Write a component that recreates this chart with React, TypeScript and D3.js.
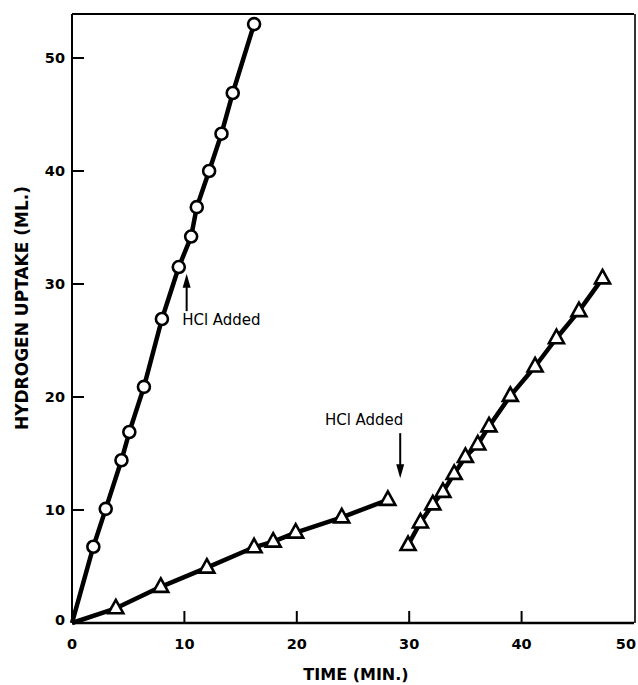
import * as d3 from 'd3';

// readings (time in min, uptake in ml)
const circleTime = [0, 1.9, 3.0, 4.4, 5.1, 6.4, 8.0, 9.5, 10.6, 11.1, 12.2, 13.3, 14.3, 16.2];
const circleUptake = [0, 6.75, 10.1, 14.4, 16.9, 20.9, 26.9, 31.5, 34.2, 36.8, 40.0, 43.3, 46.9, 53.0];

const triTimeA = [0, 3.9, 7.9, 12.0, 16.2, 17.9, 19.9, 24.0, 28.1];
const triUptakeA = [0, 1.3, 3.2, 4.9, 6.7, 7.2, 8.0, 9.35, 10.9];

const triTimeB = [29.9, 31.0, 32.1, 33.0, 34.0, 35.0, 36.1, 37.1, 39.0, 41.2, 43.1, 45.1, 47.2];
const triUptakeB = [6.9, 8.9, 10.5, 11.6, 13.2, 14.7, 15.8, 17.4, 20.1, 22.7, 25.2, 27.6, 30.5];

const xTicks = [0, 10, 20, 30, 40, 50];
const yTicks = [0, 10, 20, 30, 40, 50];

// arrow annotations
const notes = [
  { label: 'HCl Added', x: 10.2, from: 27.6, to: 30.9, tx: 9.8, ty: 26.4 },
  { label: 'HCl Added', x: 29.2, from: 16.8, to: 12.8, tx: 22.5, ty: 17.5 },
];

const width = 638;
const height = 685;

export default function App() {
  const x = d3.scaleLinear().domain([0, 50]).range([72, 634]);
  const y = d3.scaleLinear().domain([0, 50]).range([623, 58]);
  const yTop = y(53.9);

  const pts = (t: number[], v: number[]) => t.map((d, i) => [d, v[i]] as [number, number]);
  const line = d3.line<[number, number]>().x(d => x(d[0])).y(d => y(d[1]));

  const circles = pts(circleTime, circleUptake);
  const trisA = pts(triTimeA, triUptakeA);
  const trisB = pts(triTimeB, triUptakeB);

  const tri = 'M0,-8.5L7.5,5L-7.5,5Z';
  const labelFont = 'DejaVu Sans, sans-serif';

  return (
    <div style={{ position: 'absolute', left: 0, top: 0 }}>
      <svg width={width} height={height} style={{ display: 'block', background: 'white' }}>
        {/* frame */}
        <line x1={x(0)} x2={x(0)} y1={yTop} y2={y(0)} stroke="#000" strokeWidth={2} />
        <line x1={x(0)} x2={x(50)} y1={y(0)} y2={y(0)} stroke="#000" strokeWidth={2.5} />
        <line x1={x(0)} x2={x(50)} y1={yTop} y2={yTop} stroke="#000" strokeWidth={2} />
        <line x1={x(50) + 1} x2={x(50) + 1} y1={yTop} y2={y(0)} stroke="#000" strokeWidth={1.6} />

        {/* ticks */}
        {xTicks.filter(t => t > 0 && t < 50).map(t => (
          <line key={'xt' + t} x1={x(t)} x2={x(t)} y1={y(0)} y2={y(0) - 12} stroke="#000" strokeWidth={2} />
        ))}
        {yTicks.filter(t => t > 0).map(t => (
          <line key={'yt' + t} x1={x(0)} x2={x(0) + 12} y1={y(t)} y2={y(t)} stroke="#000" strokeWidth={2} />
        ))}

        {/* tick labels */}
        {xTicks.map(t => (
          <text key={'xl' + t} x={t === 50 ? 636 : x(t)} y={y(0) + 26} textAnchor={t === 50 ? 'end' : 'middle'}
            fontFamily={labelFont} fontWeight="bold" fontSize={14.5}>{t}</text>
        ))}
        {yTicks.map(t => (
          <text key={'yl' + t} x={x(0) - 7} y={y(t) + (t === 0 ? 2 : 5)} textAnchor="end"
            fontFamily={labelFont} fontWeight="bold" fontSize={14.5}>{t}</text>
        ))}

        {/* axis titles */}
        <text x={356} y={680} textAnchor="middle" fontFamily={labelFont} fontWeight="bold" fontSize={16}>
          TIME (MIN.)
        </text>
        <text transform={`translate(28,308) rotate(-90)`} textAnchor="middle"
          fontFamily={labelFont} fontWeight="bold" fontSize={17}>
          HYDROGEN UPTAKE (ML.)
        </text>

        {/* data lines */}
        <path d={line(circles) || ''} fill="none" stroke="#000" strokeWidth={4.5} strokeLinejoin="round" />
        <path d={line(trisA) || ''} fill="none" stroke="#000" strokeWidth={4.5} strokeLinejoin="round" />
        <path d={line(trisB) || ''} fill="none" stroke="#000" strokeWidth={4.5} strokeLinejoin="round" />

        {/* markers */}
        {circles.slice(1).map((d, i) => (
          <circle key={'c' + i} cx={x(d[0])} cy={y(d[1])} r={6} fill="white" stroke="#000" strokeWidth={2.6} />
        ))}
        {trisA.slice(1).concat(trisB).map((d, i) => (
          <path key={'t' + i} d={tri} transform={`translate(${x(d[0])},${y(d[1])})`}
            fill="white" stroke="#000" strokeWidth={2.6} strokeLinejoin="miter" />
        ))}

        {/* HCl annotations */}
        {notes.map((n, i) => {
          const xs = x(n.x);
          const y1 = y(n.from);
          const y2 = y(n.to);
          const dir = y2 < y1 ? 1 : -1;
          return (
            <g key={'n' + i}>
              <line x1={xs} x2={xs} y1={y1} y2={y2 + dir * 8} stroke="#000" strokeWidth={2} />
              <path d={`M${xs},${y2}L${xs - 4},${y2 + dir * 14}L${xs + 4},${y2 + dir * 14}Z`} fill="#000" />
              <text x={x(n.tx)} y={y(n.ty)} fontFamily={labelFont} fontSize={15}>{n.label}</text>
            </g>
          );
        })}
      </svg>
    </div>
  );
}
